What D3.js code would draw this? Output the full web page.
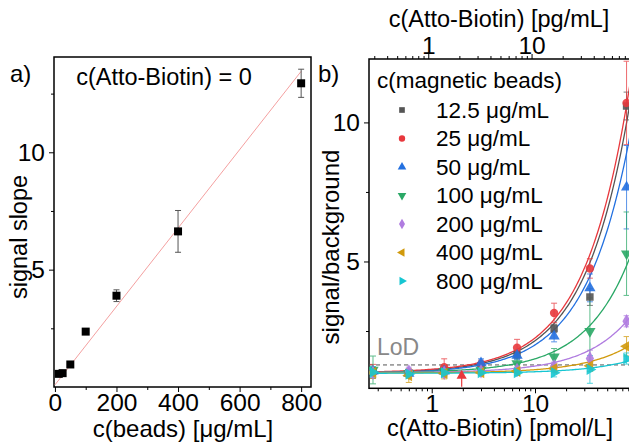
<!DOCTYPE html>
<html>
<head>
<meta charset="utf-8">
<script src="https://cdn.jsdelivr.net/npm/d3@7"></script>
<style>
  body { margin: 0; background: #fff; }
  svg { font-family: "Liberation Sans", Arial, sans-serif; }
</style>
</head>
<body>
<script>
// ---- panel a data ----
var beadConc = [12.5, 25, 50, 100, 200, 400, 800];
var beadSlope = [0.56, 0.59, 0.96, 2.36, 3.89, 6.63, 12.94];
var beadErr = [0.05, 0.05, 0.06, 0.1, 0.25, 0.89, 0.6];
var slopeFit = [0.09, 0.0167]; // intercept, slope
var aXTicks = [0, 200, 400, 600, 800];
var aYTicks = [5, 10];

// ---- panel b data ----
var biotinConc = [0.27, 0.6, 1.32, 3.0, 6.7, 15.3, 34, 77]; // pmol/L
var seriesNames = ["12.5 μg/mL", "25 μg/mL", "50 μg/mL", "100 μg/mL", "200 μg/mL", "400 μg/mL", "800 μg/mL"];
var s125 = [1.05, 1.0, 1.08, 1.25, 1.65, 2.59, 3.72, 10.59];
var s25 = [1.05, 0.98, 1.2, 1.3, 1.9, 3.15, 4.75, 10.7];
var s50 = [1.05, 0.97, 1.05, 1.35, 1.62, 2.31, 4.05, 7.67];
var s100 = [1.1, 0.98, 1.05, 1.1, 1.33, 1.57, 2.49, 5.28];
var s200 = [1.0, 1.05, 1.0, 1.05, 1.1, 1.23, 1.51, 2.85];
var s400 = [1.0, 0.9, 0.98, 1.0, 1.05, 1.15, 1.25, 1.95];
var s800 = [1.02, 0.95, 1.0, 1.0, 1.0, 1.0, 1.12, 1.51];
var e125 = [0.1, 0.08, 0.1, 0.1, 0.15, 0.15, 0.3, 0.5];
var e25 = [0.25, 0.1, 0.3, 0.15, 0.3, 0.35, 0.35, 1.5];
var e50 = [0.15, 0.1, 0.15, 0.15, 0.15, 0.2, 0.5, 1.5];
var e100 = [0.5, 0.1, 0.2, 0.1, 0.2, 0.3, 1.2, 1.5];
var e200 = [0.1, 0.15, 0.1, 0.1, 0.1, 0.15, 0.3, 0.2];
var e400 = [0.2, 0.25, 0.2, 0.1, 0.1, 0.15, 0.2, 0.35];
var e800 = [0.2, 0.15, 0.15, 0.1, 0.1, 0.15, 0.5, 0.2];
var fitA = [0.98, 1.0, 0.97, 1.0, 1.0, 0.99, 0.98];
var fitB = [0.117, 0.125, 0.103, 0.05, 0.024, 0.012, 0.0055];
var colors = ["#555555", "#e8383d", "#2370e0", "#2aa866", "#b07ce0", "#d19a0c", "#16c6d2"];
var lod = 1.28;
var arrowAt = [1.95, 1.0, 0.5]; // x, tip, tail
var pgPerPmol = 1.08;
var bYTicks = [5, 10];
var bYMinor = [2.5, 7.5];

var svg = d3.select("body").append("svg").attr("width", 629).attr("height", 445);

function sym(i) {
    var types = [d3.symbolSquare, d3.symbolCircle, d3.symbolTriangle, d3.symbolTriangle,
                 d3.symbolDiamond, d3.symbolTriangle, d3.symbolTriangle];
    return types[i];
}
function rot(i) { return [0, 0, 0, 180, 0, -90, 90][i]; }

// ================= panel a =================
var ax = d3.scaleLinear().domain([-3, 832]).range([54, 311]);
var ay = d3.scaleLinear().domain([0, 14.06]).range([387, 57]);
var ga = svg.append("g");

ga.append("rect").attr("x", 54).attr("y", 57).attr("width", 311 - 54).attr("height", 387 - 57)
    .attr("fill", "none").attr("stroke", "#000").attr("stroke-width", 1.5);

ga.append("g").attr("transform", "translate(0,387)")
    .call(d3.axisBottom(ax).tickValues(aXTicks).tickSize(5).tickPadding(2).tickFormat(d3.format("d")));
ga.append("g").attr("transform", "translate(0,387)")
    .call(d3.axisBottom(ax).tickValues([100, 300, 500, 700]).tickSize(3).tickFormat(""));
ga.append("g").attr("transform", "translate(54,0)")
    .call(d3.axisLeft(ay).tickValues(aYTicks).tickSize(5).tickPadding(4).tickFormat(d3.format("d")));
ga.append("g").attr("transform", "translate(54,0)")
    .call(d3.axisLeft(ay).tickValues([2.5, 7.5, 12.5]).tickSize(3).tickFormat(""));
ga.selectAll(".domain").remove();
ga.selectAll(".tick text").attr("font-size", 24.5).attr("font-family", "Liberation Sans, Arial, sans-serif").attr("fill", "#000");

ga.append("line")
    .attr("x1", ax(0)).attr("y1", ay(slopeFit[0]))
    .attr("x2", ax(800)).attr("y2", ay(slopeFit[0] + slopeFit[1] * 800))
    .attr("stroke", "#f4a0a0").attr("stroke-width", 1);

var ea = ga.selectAll(".ea").data(beadConc).enter().append("g");
ea.append("line").attr("x1", function(d) { return ax(d); }).attr("x2", function(d) { return ax(d); })
    .attr("y1", function(d, i) { return ay(beadSlope[i] - beadErr[i]); })
    .attr("y2", function(d, i) { return ay(beadSlope[i] + beadErr[i]); })
    .attr("stroke", "#555").attr("stroke-width", 1);
[-1, 1].forEach(function(s) {
    ea.append("line").attr("x1", function(d) { return ax(d) - 3; }).attr("x2", function(d) { return ax(d) + 3; })
        .attr("y1", function(d, i) { return ay(beadSlope[i] + s * beadErr[i]); })
        .attr("y2", function(d, i) { return ay(beadSlope[i] + s * beadErr[i]); })
        .attr("stroke", "#555").attr("stroke-width", 1);
});
ga.selectAll(".pa").data(beadConc).enter().append("rect")
    .attr("x", function(d) { return ax(d) - 4; })
    .attr("y", function(d, i) { return ay(beadSlope[i]) - 4; })
    .attr("width", 8).attr("height", 8).attr("fill", "#000");

ga.append("text").attr("x", 183).attr("y", 437).attr("text-anchor", "middle")
    .attr("font-size", 24).text("c(beads) [μg/mL]");
ga.append("text").attr("transform", "translate(27,237) rotate(-90)").attr("text-anchor", "middle")
    .attr("font-size", 23.5).text("signal slope");
ga.append("text").attr("x", 10).attr("y", 82).attr("font-size", 24).text("a)");
ga.append("text").attr("x", 164).attr("y", 85).attr("text-anchor", "middle")
    .attr("font-size", 23.5).text("c(Atto-Biotin) = 0");

// ================= panel b =================
var L = 369, R = 632, T = 59, B = 388.3;
var bx = d3.scaleLog().domain([0.247, 86.9]).range([L, R]);
var bxTop = d3.scaleLog().domain([0.247 * pgPerPmol, 86.9 * pgPerPmol]).range([L, R]);
var by = d3.scaleLinear().domain([0.44, 12.28]).range([B, T]);
var gb = svg.append("g");

gb.append("defs").append("clipPath").attr("id", "clipb").append("rect")
    .attr("x", L).attr("y", T).attr("width", R - L).attr("height", B - T);

gb.append("rect").attr("x", L).attr("y", T).attr("width", R - L).attr("height", B - T)
    .attr("fill", "none").attr("stroke", "#000").attr("stroke-width", 1.5);

function logMinor(lo, hi) {
    var out = [];
    [0.1, 1, 10].forEach(function(dec) {
        for (var k = 2; k <= 9; k++) { var v = k * dec; if (v > lo && v < hi) out.push(v); }
    });
    return out;
}
gb.append("g").attr("transform", "translate(0," + B + ")")
    .call(d3.axisBottom(bx).tickValues([1, 10]).tickSize(5).tickPadding(1).tickFormat(d3.format("d")));
gb.append("g").attr("transform", "translate(0," + B + ")")
    .call(d3.axisBottom(bx).tickValues(logMinor(0.247, 86.9)).tickSize(3).tickFormat(""));
gb.append("g").attr("transform", "translate(0," + T + ")")
    .call(d3.axisTop(bxTop).tickValues([1, 10]).tickSize(5).tickPadding(0).tickFormat(d3.format("d")));
gb.append("g").attr("transform", "translate(0," + T + ")")
    .call(d3.axisTop(bxTop).tickValues(logMinor(0.247 * pgPerPmol, 86.9 * pgPerPmol)).tickSize(3).tickFormat(""));
gb.append("g").attr("transform", "translate(" + L + ",0)")
    .call(d3.axisLeft(by).tickValues(bYTicks).tickSize(5).tickPadding(4).tickFormat(d3.format("d")));
gb.append("g").attr("transform", "translate(" + L + ",0)")
    .call(d3.axisLeft(by).tickValues(bYMinor).tickSize(3).tickFormat(""));
gb.selectAll(".domain").remove();
gb.selectAll(".tick text").attr("font-size", 24.5).attr("font-family", "Liberation Sans, Arial, sans-serif").attr("fill", "#000");

var plot = gb.append("g").attr("clip-path", "url(#clipb)");

plot.append("line").attr("x1", L).attr("x2", R).attr("y1", by(lod)).attr("y2", by(lod))
    .attr("stroke", "#555").attr("stroke-width", 1).attr("stroke-dasharray", "4,3");

var allY = [s125, s25, s50, s100, s200, s400, s800];
var allE = [e125, e25, e50, e100, e200, e400, e800];
var curveX = d3.range(0, 201).map(function(k) { return Math.exp(Math.log(0.247) + k / 200 * (Math.log(86.9) - Math.log(0.247))); });

// fits
allY.forEach(function(ys, si) {
    var line = d3.line().x(function(d) { return bx(d); }).y(function(d) { return by(fitA[si] + fitB[si] * d); });
    plot.append("path").attr("d", line(curveX)).attr("fill", "none")
        .attr("stroke", colors[si]).attr("stroke-width", 1.3);
});

// error bars
allY.forEach(function(ys, si) {
    var g = plot.append("g").attr("stroke", colors[si]).attr("stroke-width", 1).attr("opacity", 0.75);
    biotinConc.forEach(function(c, i) {
        var x = bx(c), y1 = by(ys[i] - allE[si][i]), y2 = by(ys[i] + allE[si][i]);
        g.append("line").attr("x1", x).attr("x2", x).attr("y1", y1).attr("y2", y2);
        g.append("line").attr("x1", x - 3).attr("x2", x + 3).attr("y1", y1).attr("y2", y1);
        g.append("line").attr("x1", x - 3).attr("x2", x + 3).attr("y1", y2).attr("y2", y2);
    });
});

// markers
allY.forEach(function(ys, si) {
    plot.selectAll(".m" + si).data(ys).enter().append("path")
        .attr("d", d3.symbol().type(sym(si)).size(si == 4 ? 60 : 55))
        .attr("transform", function(d, i) { return "translate(" + bx(biotinConc[i]) + "," + by(d) + ") rotate(" + rot(si) + ")"; })
        .attr("fill", colors[si]).attr("opacity", 0.9);
});

// red arrow
plot.append("line").attr("x1", bx(arrowAt[0])).attr("x2", bx(arrowAt[0]))
    .attr("y1", by(arrowAt[1])).attr("y2", by(arrowAt[2])).attr("stroke", colors[1]).attr("stroke-width", 1.2);
plot.append("path").attr("d", d3.symbol().type(d3.symbolTriangle).size(45))
    .attr("transform", "translate(" + bx(arrowAt[0]) + "," + (by(arrowAt[1]) + 3) + ")")
    .attr("fill", colors[1]);

gb.append("text").attr("x", 377).attr("y", 355).attr("font-size", 23).attr("fill", "#888").text("LoD");

// legend
var lg = gb.append("g");
lg.append("text").attr("x", 377).attr("y", 88).attr("font-size", 22.5).text("c(magnetic beads)");
seriesNames.forEach(function(n, i) {
    var cy = 110 + i * 28.5;
    lg.append("path").attr("d", d3.symbol().type(sym(i)).size(32))
        .attr("transform", "translate(402," + cy + ") rotate(" + rot(i) + ")")
        .attr("fill", colors[i]);
    lg.append("text").attr("x", 436).attr("y", cy + 7.5).attr("font-size", 22.5).text(n);
});

gb.append("text").attr("x", 500).attr("y", 436).attr("text-anchor", "middle")
    .attr("font-size", 23.5).text("c(Atto-Biotin) [pmol/L]");
gb.append("text").attr("x", 499).attr("y", 27).attr("text-anchor", "middle")
    .attr("font-size", 23.5).text("c(Atto-Biotin) [pg/mL]");
gb.append("text").attr("transform", "translate(339,247) rotate(-90)").attr("text-anchor", "middle")
    .attr("font-size", 24).text("signal/background");
gb.append("text").attr("x", 318).attr("y", 82).attr("font-size", 24).text("b)");
</script>
</body>
</html>
